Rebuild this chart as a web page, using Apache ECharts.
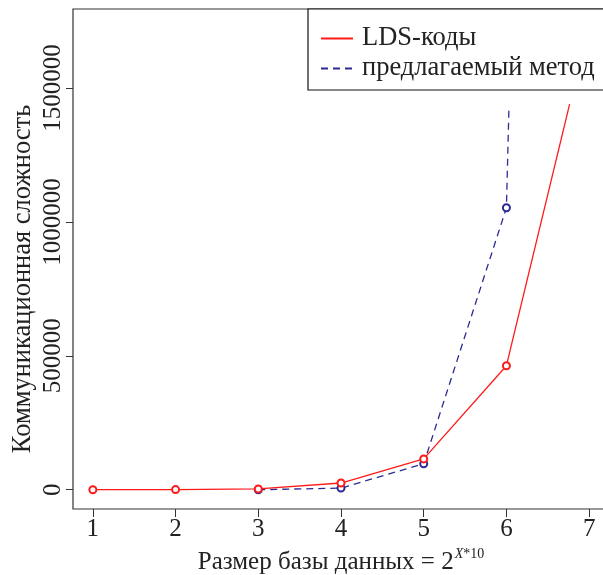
<!DOCTYPE html>
<html><head><meta charset="utf-8">
<script src="https://cdn.jsdelivr.net/npm/echarts@6/dist/echarts.min.js"></script>
<style>html,body{margin:0;padding:0;background:#fff}#c{width:603px;height:575px}</style>
</head><body><div id="c"></div>
<script>
var xTicks = [1, 2, 3, 4, 5, 6, 7];
var yTicks = [0, 500000, 1000000, 1500000];
var ldsX = [1, 2, 3, 4, 5, 6, 6.764];
var ldsY = [0, 500, 3000, 25000, 115000, 463000, 1440000];
var propX = [3, 4, 5, 6, 6.03];
var propY = [0, 6000, 97000, 1053000, 1422000];
var seriesNames = ['LDS-коды', 'предлагаемый метод'];

function pairs(xs, ys, nMarked) {
  return xs.map(function (x, i) {
    var d = { value: [x, ys[i]] };
    if (i >= nMarked) d.symbol = 'none';
    return d;
  });
}

var font = 'Liberation Serif';
var chart = echarts.init(document.getElementById('c'), null, { renderer: 'canvas' });
chart.setOption({
  animation: false,
  backgroundColor: '#fff',
  grid: { left: 73, top: 9, width: 536, height: 500, show: true, borderColor: '#333', borderWidth: 1.2, containLabel: false, outerBoundsMode: 'none' },
  legend: {
    left: 308, top: 9, orient: 'vertical',
    backgroundColor: '#fff',
    borderColor: '#111', borderWidth: 1.2,
    padding: [16, 30, 8, 12],
    itemGap: 3, itemWidth: 32, itemHeight: 14,
    textStyle: { fontFamily: font, fontSize: 26.5, color: '#222', padding: [0, 0, 0, 4] },
    itemStyle: { opacity: 0 },
    data: seriesNames
  },
  xAxis: {
    type: 'value', min: 0.76, max: 7.24,
    axisLine: { show: false, onZero: false },
    splitLine: { show: false },
    axisTick: { show: true, length: 8, customValues: xTicks, lineStyle: { color: '#333' } },
    axisLabel: { customValues: xTicks, fontFamily: font, fontSize: 25, color: '#222', margin: 8 },
    name: '{a|Размер базы данных = 2}{b|X}{c|*10}',
    nameLocation: 'middle', nameGap: 33,
    nameTextStyle: {
      rich: {
        a: { fontFamily: font, fontSize: 25, color: '#222', verticalAlign: 'bottom' },
        b: { fontFamily: font, fontSize: 14, fontStyle: 'italic', color: '#222', verticalAlign: 'top', padding: [0, 0, 14, 1] },
        c: { fontFamily: font, fontSize: 14, color: '#222', verticalAlign: 'top', padding: [0, 0, 14, 0] }
      }
    }
  },
  yAxis: {
    type: 'value', min: -72000, max: 1795000,
    axisLine: { show: false, onZero: false },
    splitLine: { show: false },
    axisTick: { show: true, length: 7, customValues: yTicks, lineStyle: { color: '#333' } },
    axisLabel: { customValues: yTicks, rotate: 90, fontFamily: font, fontSize: 25, color: '#222', margin: 7,
      formatter: function (v) { return String(v); } },
    name: 'Коммуникационная сложность',
    nameLocation: 'middle', nameGap: 36, nameMoveOverlap: false,
    nameTextStyle: { fontFamily: font, fontSize: 26.5, color: '#222', padding: [0, 40, 0, 0] }
  },
  series: [
    {
      name: seriesNames[0], type: 'line',
      data: pairs(ldsX, ldsY, 6),
      symbol: 'emptyCircle', symbolSize: 7,
      lineStyle: { color: '#ff1a1a', width: 1.3 },
      itemStyle: { color: '#ff1a1a', borderWidth: 1.3 },
      z: 3
    },
    {
      name: seriesNames[1], type: 'line',
      data: pairs(propX, propY, 4),
      symbol: 'emptyCircle', symbolSize: 7,
      lineStyle: { color: '#2b2b95', width: 1.3, type: [7, 5] },
      itemStyle: { color: '#2b2b95', borderWidth: 1.3 },
      z: 2
    }
  ]
});
</script></body></html>
